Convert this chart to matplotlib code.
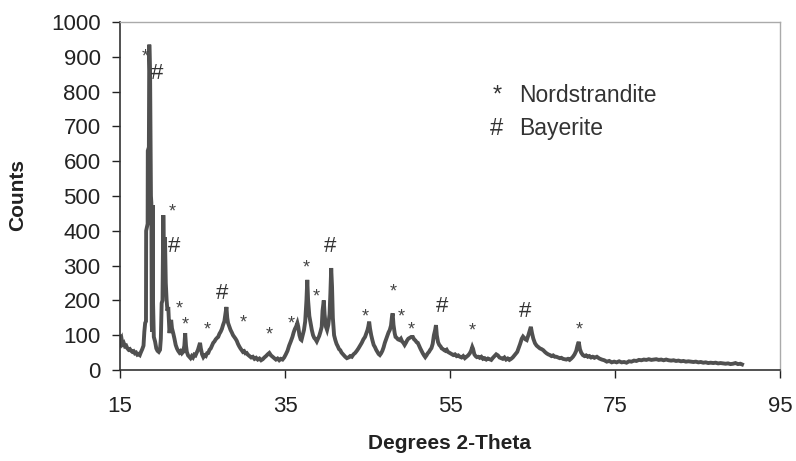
import matplotlib
matplotlib.use("Agg")
import matplotlib.pyplot as plt

plt.rcParams['font.family'] = ['Liberation Sans', 'DejaVu Sans']

two_theta = [15.0, 15.1, 15.2, 15.3, 15.45, 15.6, 15.75, 15.9, 16.05, 16.2, 16.35, 16.5, 16.65, 16.8, 16.95,
             17.1, 17.25, 17.4, 17.55, 17.7, 17.85, 17.95, 18.05, 18.15, 18.17, 18.35, 18.37, 18.5, 18.55,
             18.65, 18.75, 18.8, 18.85, 18.9, 18.95, 19.0, 19.1, 19.25, 19.4, 19.55, 19.7, 19.85, 19.95,
             20.05, 20.15, 20.25, 20.35, 20.45, 20.55, 20.65, 20.75, 20.85, 21.0, 21.1, 21.2, 21.3, 21.45,
             21.6, 21.75, 21.9, 22.05, 22.2, 22.35, 22.5, 22.65, 22.8, 22.9, 23.0, 23.1, 23.25, 23.4, 23.55,
             23.7, 23.85, 24.0, 24.15, 24.3, 24.45, 24.6, 24.7, 24.8, 24.95, 25.1, 25.25, 25.4, 25.55, 25.7,
             25.85, 26.0, 26.15, 26.3, 26.45, 26.6, 26.75, 26.9, 27.05, 27.2, 27.35, 27.5, 27.65, 27.8, 27.9,
             28.0, 28.1, 28.25, 28.4, 28.55, 28.7, 28.85, 29.0, 29.15, 29.3, 29.45, 29.6, 29.75, 29.9, 30.05,
             30.2, 30.35, 30.5, 30.7, 30.9, 31.1, 31.3, 31.5, 31.7, 31.9, 32.1, 32.3, 32.5, 32.7, 32.9, 33.1,
             33.3, 33.5, 33.7, 33.9, 34.1, 34.3, 34.5, 34.7, 34.9, 35.1, 35.3, 35.5, 35.7, 35.9, 36.05, 36.2,
             36.35, 36.5, 36.6, 36.75, 36.9, 37.0, 37.15, 37.3, 37.45, 37.6, 37.7, 37.8, 37.95, 38.1, 38.25,
             38.4, 38.55, 38.7, 38.85, 39.0, 39.15, 39.3, 39.45, 39.55, 39.7, 39.8, 39.95, 40.1, 40.25, 40.4,
             40.5, 40.6, 40.7, 40.8, 40.95, 41.1, 41.25, 41.4, 41.55, 41.7, 41.85, 42.0, 42.15, 42.3, 42.5,
             42.7, 42.9, 43.1, 43.3, 43.5, 43.7, 43.9, 44.1, 44.3, 44.5, 44.7, 44.85, 45.0, 45.1, 45.2, 45.3,
             45.45, 45.6, 45.75, 45.9, 46.05, 46.2, 46.35, 46.5, 46.65, 46.8, 46.95, 47.1, 47.25, 47.4, 47.55,
             47.7, 47.85, 47.95, 48.05, 48.15, 48.3, 48.4, 48.55, 48.7, 48.9, 49.05, 49.2, 49.35, 49.5, 49.65,
             49.8, 49.95, 50.1, 50.3, 50.5, 50.65, 50.8, 50.95, 51.1, 51.25, 51.4, 51.55, 51.7, 51.85, 52.0,
             52.15, 52.3, 52.45, 52.6, 52.75, 52.9, 53.05, 53.2, 53.3, 53.4, 53.55, 53.7, 53.85, 54.0, 54.15,
             54.3, 54.45, 54.6, 54.75, 54.9, 55.05, 55.2, 55.4, 55.6, 55.8, 56.0, 56.2, 56.4, 56.6, 56.8, 57.0,
             57.2, 57.4, 57.55, 57.7, 57.8, 57.95, 58.1, 58.25, 58.4, 58.6, 58.8, 59.0, 59.2, 59.4, 59.6, 59.8,
             60.0, 60.2, 60.4, 60.6, 60.8, 61.0, 61.2, 61.4, 61.6, 61.8, 62.0, 62.2, 62.4, 62.6, 62.8, 63.0,
             63.15, 63.3, 63.5, 63.7, 63.85, 64.0, 64.15, 64.3, 64.5, 64.65, 64.8, 64.95, 65.1, 65.3, 65.5,
             65.7, 65.9, 66.1, 66.3, 66.5, 66.7, 66.9, 67.1, 67.3, 67.5, 67.7, 67.9, 68.1, 68.3, 68.5, 68.7,
             68.9, 69.1, 69.3, 69.5, 69.7, 69.9, 70.1, 70.3, 70.45, 70.6, 70.75, 70.9, 71.1, 71.3, 71.5, 71.7,
             71.9, 72.1, 72.3, 72.5, 72.8, 73.1, 73.4, 73.7, 74.0, 74.3, 74.6, 74.9, 75.2, 75.5, 75.8, 76.1,
             76.4, 76.7, 77.0, 77.3, 77.6, 77.9, 78.2, 78.5, 78.8, 79.1, 79.4, 79.7, 80.0, 80.3, 80.6, 80.9,
             81.2, 81.5, 81.8, 82.1, 82.4, 82.7, 83.0, 83.3, 83.6, 83.9, 84.2, 84.5, 84.8, 85.1, 85.4, 85.7,
             86.0, 86.3, 86.6, 86.9, 87.2, 87.5, 87.8, 88.1, 88.4, 88.7, 89.0, 89.3, 89.6, 89.9, 90.2, 90.4]

counts = [96, 82, 88, 74, 78, 68, 70, 62, 58, 60, 55, 52, 54, 48, 50,
          44, 46, 43, 52, 60, 70, 110, 135, 140, 400, 420, 630, 640, 935,
          840, 500, 480, 130, 110, 474, 200, 95, 82, 62, 55, 52, 58, 90,
          192, 200, 445, 300, 382, 250, 201, 170, 181, 106, 125, 144, 120, 106,
          90, 72, 62, 55, 50, 54, 48, 52, 70, 106, 70, 52, 42, 38, 34,
          40, 36, 44, 42, 50, 58, 70, 78, 62, 45, 37, 42, 40, 48, 49,
          58, 62, 70, 78, 82, 88, 92, 95, 104, 110, 118, 130, 140, 165, 181,
          150, 135, 125, 115, 108, 100, 95, 90, 84, 75, 68, 62, 57, 52, 54,
          48, 49, 44, 40, 36, 38, 32, 35, 30, 33, 28, 31, 36, 40, 45, 49,
          42, 38, 34, 30, 33, 28, 32, 30, 36, 45, 55, 70, 82, 95, 108, 118,
          125, 135, 125, 100, 88, 86, 100, 115, 140, 200, 259, 200, 155, 135, 115,
          100, 92, 88, 82, 90, 98, 110, 124, 170, 200, 160, 125, 115, 130, 160,
          220, 293, 240, 150, 100, 86, 75, 68, 60, 57, 50, 46, 42, 38, 34,
          36, 40, 38, 45, 49, 55, 62, 70, 78, 88, 95, 105, 115, 125, 139, 120,
          100, 85, 72, 66, 58, 52, 46, 43, 48, 55, 65, 78, 88, 98, 108,
          115, 128, 150, 163, 130, 105, 95, 92, 88, 86, 90, 82, 78, 72, 78,
          85, 90, 92, 95, 95, 88, 85, 80, 78, 70, 62, 55, 48, 42, 37,
          42, 48, 52, 58, 63, 75, 100, 115, 129, 100, 80, 72, 68, 62, 60,
          57, 55, 58, 52, 50, 48, 46, 43, 45, 40, 42, 38, 36, 40, 34, 38,
          42, 48, 55, 66, 60, 45, 40, 37, 38, 35, 38, 32, 34, 30, 33, 31,
          29, 35, 40, 45, 42, 36, 34, 32, 36, 30, 33, 29, 32, 36, 42, 48,
          52, 62, 75, 90, 96, 92, 88, 86, 100, 112, 124, 105, 90, 77, 70,
          66, 62, 60, 57, 52, 48, 45, 43, 40, 42, 38, 38, 36, 34, 35, 32,
          31, 30, 32, 29, 33, 38, 45, 55, 70, 81, 60, 50, 43, 40, 42, 38,
          40, 36, 38, 35, 38, 33, 30, 28, 24, 26, 22, 24, 22, 25, 22, 23,
          21, 25, 24, 27, 26, 29, 28, 30, 29, 31, 29, 30, 31, 29, 30, 28,
          30, 28, 27, 28, 26, 27, 25, 26, 24, 25, 24, 23, 24, 22, 23, 21,
          22, 20, 21, 20, 21, 19, 20, 19, 18, 19, 17, 18, 20, 17, 18, 16]

# peak annotations
nord_x = [18.0, 21.3, 22.2, 22.9, 25.6, 29.9, 33.1, 35.8, 37.6, 38.8, 44.7, 48.1, 49.15, 50.35, 57.7, 70.7]
nord_y = [914, 470, 190, 145, 129, 150, 115, 146, 307, 225, 168, 240, 168, 129, 126, 129]
bay_x = [19.5, 21.5, 27.4, 40.45, 54.0, 64.1]
bay_y = [852, 354, 221, 354, 182, 168]

x_ticks = [15, 35, 55, 75, 95]
y_ticks = [0, 100, 200, 300, 400, 500, 600, 700, 800, 900, 1000]

fig = plt.figure(figsize=(7.96, 4.61), dpi=100)
ax = fig.add_axes([120/796, 1 - 370/461, 660/796, 348/461])

ax.plot(two_theta, counts, color='#505050', linewidth=2.8, solid_joinstyle='miter')

for x, y in zip(nord_x, nord_y):
    ax.text(x, y - 15, '*', fontsize=13, color='#444444', ha='center', va='center')
for x, y in zip(bay_x, bay_y):
    ax.text(x, y, '#', fontsize=16, color='#333333', ha='center', va='center')

ax.set_xlim(15, 95)
ax.set_ylim(0, 1000)
ax.set_xticks(x_ticks)
ax.set_yticks(y_ticks)
ax.tick_params(axis='both', labelsize=16, colors='#222222', length=6, width=1, direction='out')
ax.tick_params(axis='x', pad=13)
ax.tick_params(axis='y', pad=8)

for side in ['left', 'bottom']:
    ax.spines[side].set_color('#333333')
    ax.spines[side].set_linewidth(1.2)
for side in ['top', 'right']:
    ax.spines[side].set_color('#aaaaaa')
    ax.spines[side].set_linewidth(1.0)

fig.text(450/796, 1 - 443/461, 'Degrees 2-Theta', fontsize=15, fontweight='bold', color='#222222',
         ha='center', va='center')
fig.text(18/796, 1 - 195/461, 'Counts', fontsize=15, fontweight='bold', color='#222222',
         ha='center', va='center', rotation=90)

# legend as text
fig.text(497/796, 1 - 96/461, '*', fontsize=17, color='#333333', ha='center', va='center')
fig.text(519/796, 1 - 95/461, 'Nordstrandite', fontsize=16.5, color='#333333', ha='left', va='center')
fig.text(497/796, 1 - 129/461, '#', fontsize=17, color='#333333', ha='center', va='center')
fig.text(519/796, 1 - 129/461, 'Bayerite', fontsize=16.5, color='#333333', ha='left', va='center')

fig.savefig('out.png', dpi=100)
